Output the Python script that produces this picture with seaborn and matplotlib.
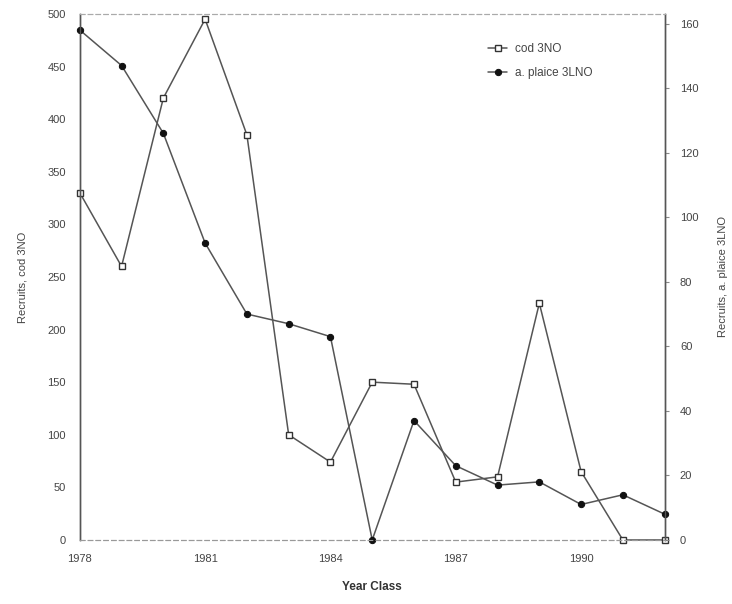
import matplotlib
matplotlib.use("Agg")
import matplotlib.pyplot as plt
import seaborn as sns
import pandas as pd

# Recruitment by year class
years = list(range(1978, 1993))
cod_3no = [330, 260, 420, 495, 385, 100, 74, 150, 148, 55, 60, 225, 65, 0, 0]
plaice_3lno = [158, 147, 126, 92, 70, 67, 63, 0, 37, 23, 17, 18, 11, 14, 8]

year_ticks = [1978, 1981, 1984, 1987, 1990]
left_ticks = [0, 50, 100, 150, 200, 250, 300, 350, 400, 450, 500]
right_ticks = [0, 20, 40, 60, 80, 100, 120, 140, 160]

df = pd.DataFrame({"year": years, "cod": cod_3no, "plaice": plaice_3lno})

sns.set_style("white")
plt.rcParams["font.family"] = ["Liberation Sans", "DejaVu Sans"]

line_col = "#555555"
text_col = "#444444"

fig = plt.figure(figsize=(7.32, 6.04), dpi=100)
ax = fig.add_axes([0.109, 0.106, 0.799, 0.871])
ax2 = ax.twinx()

sns.lineplot(data=df, x="year", y="cod", ax=ax, color=line_col, lw=1.1,
             marker="s", markersize=4.5, markerfacecolor="white",
             markeredgecolor="#333333", markeredgewidth=1.0,
             label="cod 3NO", legend=False, clip_on=False)
sns.lineplot(data=df, x="year", y="plaice", ax=ax2, color=line_col, lw=1.1,
             marker="o", markersize=4.5, markerfacecolor="#111111",
             markeredgecolor="#111111", label="a. plaice 3LNO", legend=False,
             clip_on=False)

ax.set_xlim(1978, 1992)
ax.set_ylim(0, 500)
ax2.set_ylim(0, 163)
ax.set_xticks(year_ticks)
ax.set_yticks(left_ticks)
ax2.set_yticks(right_ticks)

ax.tick_params(axis="both", labelsize=8, labelcolor=text_col, length=0, pad=10)
ax2.tick_params(axis="y", labelsize=8, labelcolor=text_col, length=3,
                color="#888888", pad=8)

ax.set_xlabel("Year Class", fontsize=8.5, fontweight="bold", color="#333333",
              labelpad=12)
ax.set_ylabel("Recruits, cod 3NO", fontsize=8, color=text_col, labelpad=14)
ax2.set_ylabel("Recruits, a. plaice 3LNO", fontsize=8, color=text_col,
               rotation=90, labelpad=14)

for a in (ax, ax2):
    a.spines["left"].set_color("#555555")
    a.spines["right"].set_color("#555555")
    a.spines["top"].set_color("#aaaaaa")
    a.spines["top"].set_linestyle((0, (4, 3)))
    a.spines["bottom"].set_color("#999999")
    a.spines["bottom"].set_linestyle((0, (4, 3)))
    a.spines["left"].set_linewidth(1.0)
    a.spines["right"].set_linewidth(1.0)
    a.spines["top"].set_linewidth(0.8)
    a.spines["bottom"].set_linewidth(0.8)

h1, l1 = ax.get_legend_handles_labels()
h2, l2 = ax2.get_legend_handles_labels()
ax2.legend(h1 + h2, l1 + l2, loc="upper left", bbox_to_anchor=(0.68, 0.965),
           frameon=False, fontsize=8.5, labelcolor=text_col, handlelength=1.6,
           handletextpad=0.7, labelspacing=1.0)

fig.savefig("out.png", dpi=100)
